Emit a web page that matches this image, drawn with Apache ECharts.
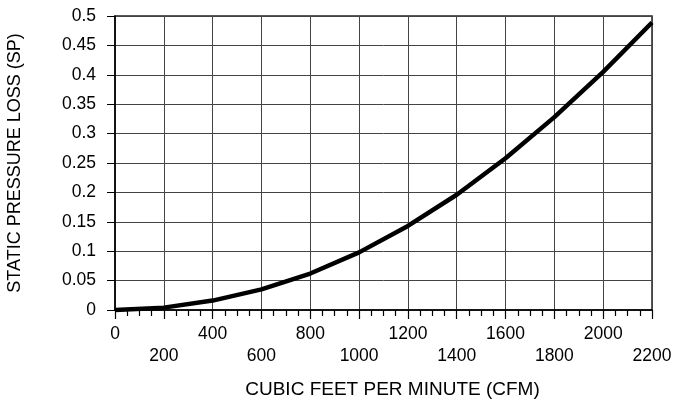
<!DOCTYPE html>
<html><head><meta charset="utf-8">
<script src="https://cdn.jsdelivr.net/npm/echarts@6/dist/echarts.min.js"></script>
<style>html,body{margin:0;padding:0;background:#fff}#c{width:673px;height:402px}</style>
</head><body><div id="c"></div>
<script>
const cfm = [0, 200, 400, 600, 800, 1000, 1200, 1400, 1600, 1800, 2000, 2200];
const sp = [0, 0.004, 0.016, 0.035, 0.062, 0.098, 0.143, 0.196, 0.258, 0.328, 0.405, 0.489];
const xTitle = 'CUBIC FEET PER MINUTE (CFM)';
const yTitle = 'STATIC PRESSURE LOSS (SP)';

const chart = echarts.init(document.getElementById('c'), null, {renderer: 'canvas'});
const font = 'Liberation Sans, Arial, sans-serif';
chart.setOption({
  animation: false,
  backgroundColor: '#fff',
  grid: {left: 115, right: 21, top: 16, bottom: 92, show: true, borderColor: '#222', borderWidth: 1.5,
         containLabel: false, outerBoundsMode: 'none'},
  xAxis: {
    type: 'value', min: 0, max: 2200, interval: 200,
    name: xTitle, nameLocation: 'middle', nameGap: 70,
    nameTextStyle: {fontFamily: font, fontSize: 19, color: '#000', padding: [0, 0, 0, 18]},
    axisLine: {show: true, lineStyle: {color: '#000', width: 1.5}},
    axisTick: {show: true, length: 9, lineStyle: {color: '#000', width: 1.2}},
    minorTick: {show: true, splitNumber: 4, length: 6, lineStyle: {color: '#000', width: 1.2}},
    splitLine: {show: true, lineStyle: {color: '#444', width: 1}},
    axisLabel: {
      fontFamily: font, fontSize: 17.5, color: '#000', margin: 13, lineHeight: 22,
      formatter: v => ((v / 200) % 2 === 1 ? '\n' + v : String(v))
    }
  },
  yAxis: {
    type: 'value', min: 0, max: 0.5, interval: 0.05,
    name: yTitle, nameLocation: 'middle', nameGap: 91,
    nameTextStyle: {fontFamily: font, fontSize: 18, color: '#000'},
    axisLine: {show: true, lineStyle: {color: '#000', width: 1.5}},
    axisTick: {show: true, length: 8, lineStyle: {color: '#000', width: 1}},
    splitLine: {show: true, lineStyle: {color: '#444', width: 1}},
    axisLabel: {
      fontFamily: font, fontSize: 17.5, color: '#000', margin: 19,
      formatter: v => String(+v.toFixed(2))
    }
  },
  series: [{
    type: 'line',
    data: cfm.map((x, i) => [x, sp[i]]),
    showSymbol: false, smooth: false,
    lineStyle: {color: '#000', width: 4.5},
    clip: false
  }]
});
</script></body></html>
